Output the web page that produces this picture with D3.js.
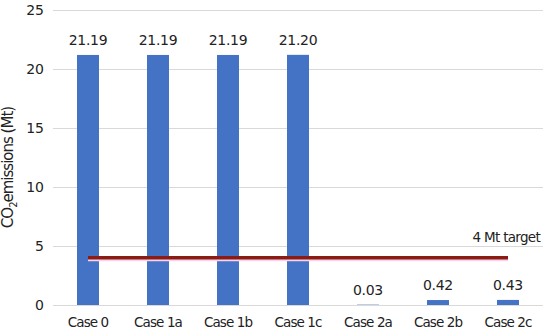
<!DOCTYPE html>
<html>
<head>
<meta charset="utf-8">
<script src="https://cdn.jsdelivr.net/npm/d3@7"></script>
<style>
  body { margin: 0; background: #fff; }
  text { font-family: "DejaVu Sans", Verdana, sans-serif; fill: #222; }
</style>
</head>
<body>
<div id="chart"></div>
<script>
var cases = ["Case 0", "Case 1a", "Case 1b", "Case 1c", "Case 2a", "Case 2b", "Case 2c"];
var emissions = [21.19, 21.19, 21.19, 21.20, 0.03, 0.42, 0.43];
var labels = ["21.19", "21.19", "21.19", "21.20", "0.03", "0.42", "0.43"];
var yTicks = [0, 5, 10, 15, 20, 25];
var target = 4;

var w = 550, h = 334;
var margin = { top: 10, right: 7, bottom: 29, left: 53 };
var width = w - margin.left - margin.right,
    height = h - margin.top - margin.bottom;

var x = d3.scaleBand()
    .domain(cases)
    .range([0, width])
    .paddingInner(0.686)
    .paddingOuter(0.343);

var y = d3.scaleLinear()
    .domain([0, 25])
    .range([height, 0]);

var svg = d3.select("#chart").append("svg")
    .attr("width", w)
    .attr("height", h)
    .append("g")
    .attr("transform", "translate(" + margin.left + "," + margin.top + ")");

// gridlines
svg.append("g")
    .attr("class", "grid")
    .call(d3.axisLeft(y).tickValues(yTicks).tickSize(-width).tickFormat(""))
    .call(g => g.select(".domain").remove())
    .call(g => g.selectAll("line").attr("stroke", "#d9d9d9").attr("stroke-width", 1.2));

// y axis labels
svg.append("g")
    .call(d3.axisLeft(y).tickValues(yTicks).tickSize(0).tickPadding(9))
    .call(g => g.select(".domain").remove())
    .call(g => g.selectAll("text").attr("font-size", "14px").attr("fill", "#222"));

// x axis labels
svg.append("g")
    .attr("transform", "translate(0," + height + ")")
    .call(d3.axisBottom(x).tickSize(0).tickPadding(12))
    .call(g => g.select(".domain").remove())
    .call(g => g.selectAll("text").attr("font-size", "13.5px").attr("letter-spacing", "-0.9px").attr("fill", "#222"));

// bars
svg.selectAll("rect.bar")
    .data(cases)
    .enter().append("rect")
    .attr("class", "bar")
    .attr("x", d => x(d))
    .attr("width", x.bandwidth())
    .attr("y", (d, i) => y(emissions[i]))
    .attr("height", (d, i) => height - y(emissions[i]))
    .attr("fill", "#4472c4");

// value labels
svg.append("g").selectAll("text")
    .data(cases)
    .enter().append("text")
    .attr("x", d => x(d) + x.bandwidth() / 2)
    .attr("y", (d, i) => y(emissions[i]) - 10)
    .attr("text-anchor", "middle")
    .attr("font-size", "14px")
    .attr("letter-spacing", "-0.3px")
    .text((d, i) => labels[i]);

// target line
var x0 = x(cases[0]) + x.bandwidth() / 2,
    x1 = x(cases[cases.length - 1]) + x.bandwidth() / 2;
svg.append("line")
    .attr("x1", x0).attr("x2", x1)
    .attr("y1", y(target) + 2).attr("y2", y(target) + 2)
    .attr("stroke", "#f6d3ee")
    .attr("stroke-width", 3);
svg.append("line")
    .attr("x1", x0).attr("x2", x1)
    .attr("y1", y(target)).attr("y2", y(target))
    .attr("stroke", "#8b1c14")
    .attr("stroke-width", 3.5);

svg.append("text")
    .attr("x", width - 3)
    .attr("y", y(target) - 16)
    .attr("text-anchor", "end")
    .attr("font-size", "13.5px")
    .attr("letter-spacing", "-0.7px")
    .text("4 Mt target");

// y title
var yt = svg.append("text")
    .attr("transform", "translate(" + (-40) + "," + (height / 2 + 10) + ") rotate(-90)")
    .attr("text-anchor", "middle")
    .attr("font-size", "15px")
    .attr("letter-spacing", "-1px");
yt.append("tspan").text("CO");
yt.append("tspan").attr("font-size", "10px").attr("dy", "4").text("2");
yt.append("tspan").attr("dy", "-4").text("emissions (Mt)");
</script>
</body>
</html>
